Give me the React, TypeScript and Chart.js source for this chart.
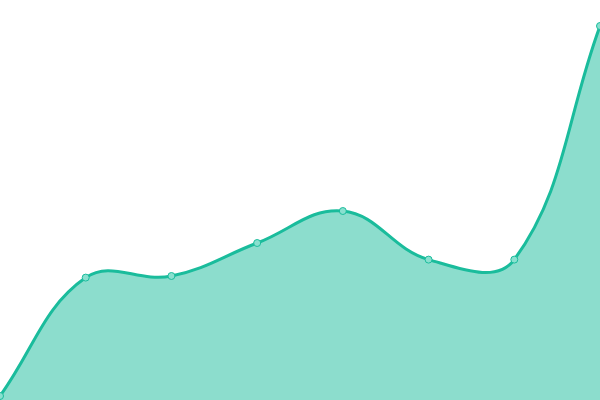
import React, { useEffect, useRef } from 'react';
import Chart from 'chart.js/auto';

const labels = ['1', '2', '3', '4', '5', '6', '7', '8'];
const values = [1, 30.6, 31, 39.25, 47.25, 35.1, 35.1, 93.5];

const App: React.FC = () => {
  const chartRef = useRef<HTMLCanvasElement>(null);

  useEffect(() => {
    document.body.style.margin = '0';
    if (!chartRef.current) return;
    const ctx = chartRef.current.getContext('2d');
    if (!ctx) return;

    const chart = new Chart(ctx, {
      type: 'line',
      data: {
        labels,
        datasets: [
          {
            data: values,
            fill: true,
            backgroundColor: 'rgba(26, 188, 156, 0.5)',
            borderColor: '#1abc9c',
            borderWidth: 3,
            tension: 0.4,
            pointRadius: 3.5,
            pointBorderWidth: 1,
            pointBackgroundColor: 'rgba(137, 224, 207, 1)',
            pointBorderColor: '#1abc9c'
          }
        ]
      },
      options: {
        responsive: false,
        animation: false,
        layout: { padding: 0, autoPadding: false },
        plugins: {
          legend: { display: false },
          tooltip: { enabled: false }
        },
        scales: {
          x: { display: false },
          y: { display: false, min: 0, max: 100 }
        }
      }
    });

    return () => {
      chart.destroy();
    };
  }, []);

  return <canvas ref={chartRef} width={600} height={400} style={{ display: 'block' }} />;
};

export default App;
